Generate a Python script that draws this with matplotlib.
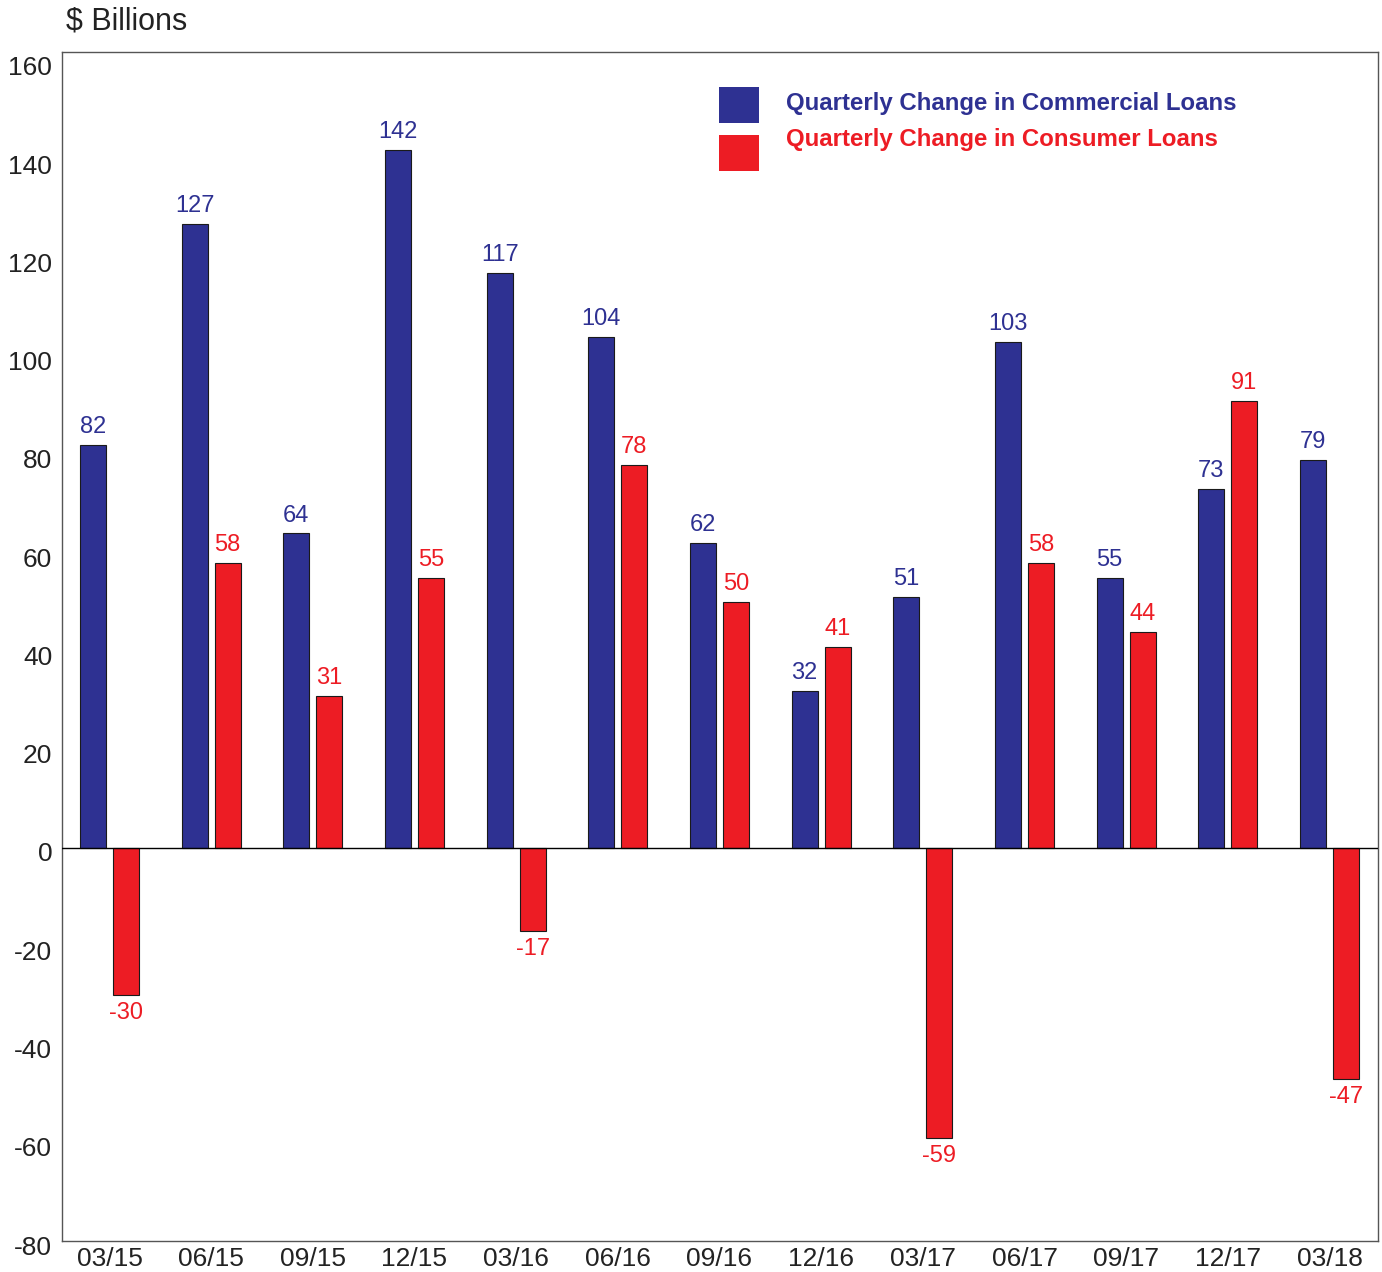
import matplotlib
matplotlib.use("Agg")
import matplotlib.pyplot as plt
import matplotlib.transforms as mtransforms
from matplotlib.patches import Rectangle
import numpy as np

plt.rcParams['font.family'] = ['Liberation Sans', 'DejaVu Sans']
plt.rcParams['axes.unicode_minus'] = False

quarters = ["03/15", "06/15", "09/15", "12/15", "03/16", "06/16", "09/16",
            "12/16", "03/17", "06/17", "09/17", "12/17", "03/18"]
commercial = [82, 127, 64, 142, 117, 104, 62, 32, 51, 103, 55, 73, 79]
consumer = [-30, 58, 31, 55, -17, 78, 50, 41, -59, 58, 44, 91, -47]
series_names = ["Quarterly Change in Commercial Loans",
                "Quarterly Change in Consumer Loans"]
yticks = list(range(-80, 161, 20))

BLUE = "#2E3192"
RED = "#ED1C24"

fig = plt.figure(figsize=(13.82, 12.72), dpi=100)
ax = fig.add_axes([0.04486, 0.02437, 0.95225, 0.93475])

x = np.arange(len(quarters))
w = 0.256
off = 0.162
b1 = ax.bar(x - off, commercial, w, color=BLUE, edgecolor="#1a1a1a", linewidth=0.8, zorder=2)
b2 = ax.bar(x + off, consumer, w, color=RED, edgecolor="#1a1a1a", linewidth=0.8, zorder=2)

for bars, vals, col in ((b1, commercial, BLUE), (b2, consumer, RED)):
    for rect, v in zip(bars, vals):
        cx = rect.get_x() + rect.get_width() / 2
        if v >= 0:
            ax.annotate(f"{v}", (cx, v), xytext=(0, 5), textcoords="offset points",
                        ha="center", va="bottom", color=col, fontsize=17)
        else:
            ax.annotate(f"{v}", (cx, v), xytext=(0, -5), textcoords="offset points",
                        ha="center", va="top", color=col, fontsize=17)

ax.axhline(0, color="black", linewidth=1.0, zorder=3)

ax.set_xlim(-0.467, 12.477)
ax.set_ylim(-80, 162)
ax.set_xticks(x)
ax.set_xticklabels(quarters)
ax.set_yticks(yticks)
ax.tick_params(axis="both", length=0, colors="#222222")
ax.tick_params(axis="y", pad=7, labelsize=19)
ax.tick_params(axis="x", pad=4, labelsize=19)

# y tick labels sit slightly below their values
shift = mtransforms.ScaledTranslation(0, -4 / 100, fig.dpi_scale_trans)
for lbl in ax.get_yticklabels():
    lbl.set_transform(lbl.get_transform() + shift)

for s in ax.spines.values():
    s.set_color("#555555")
    s.set_linewidth(1.0)

fig.text(66 / 1382, 1 - 22 / 1272, "$ Billions", fontsize=22, color="#222222",
         ha="left", va="center")

# legend: colored squares with colored bold labels
for ybox, ytxt, col, name in ((0.9403, 0.9563, BLUE, series_names[0]),
                              (0.9000, 0.9260, RED, series_names[1])):
    ax.add_patch(Rectangle((0.4992, ybox), 0.0304, 0.0303, transform=ax.transAxes,
                           facecolor=col, edgecolor="none", zorder=4))
    ax.text(0.5502, ytxt, name, transform=ax.transAxes, color=col, fontsize=17.3,
            fontweight="bold", ha="left", va="center")

fig.savefig("out.png", dpi=100)
